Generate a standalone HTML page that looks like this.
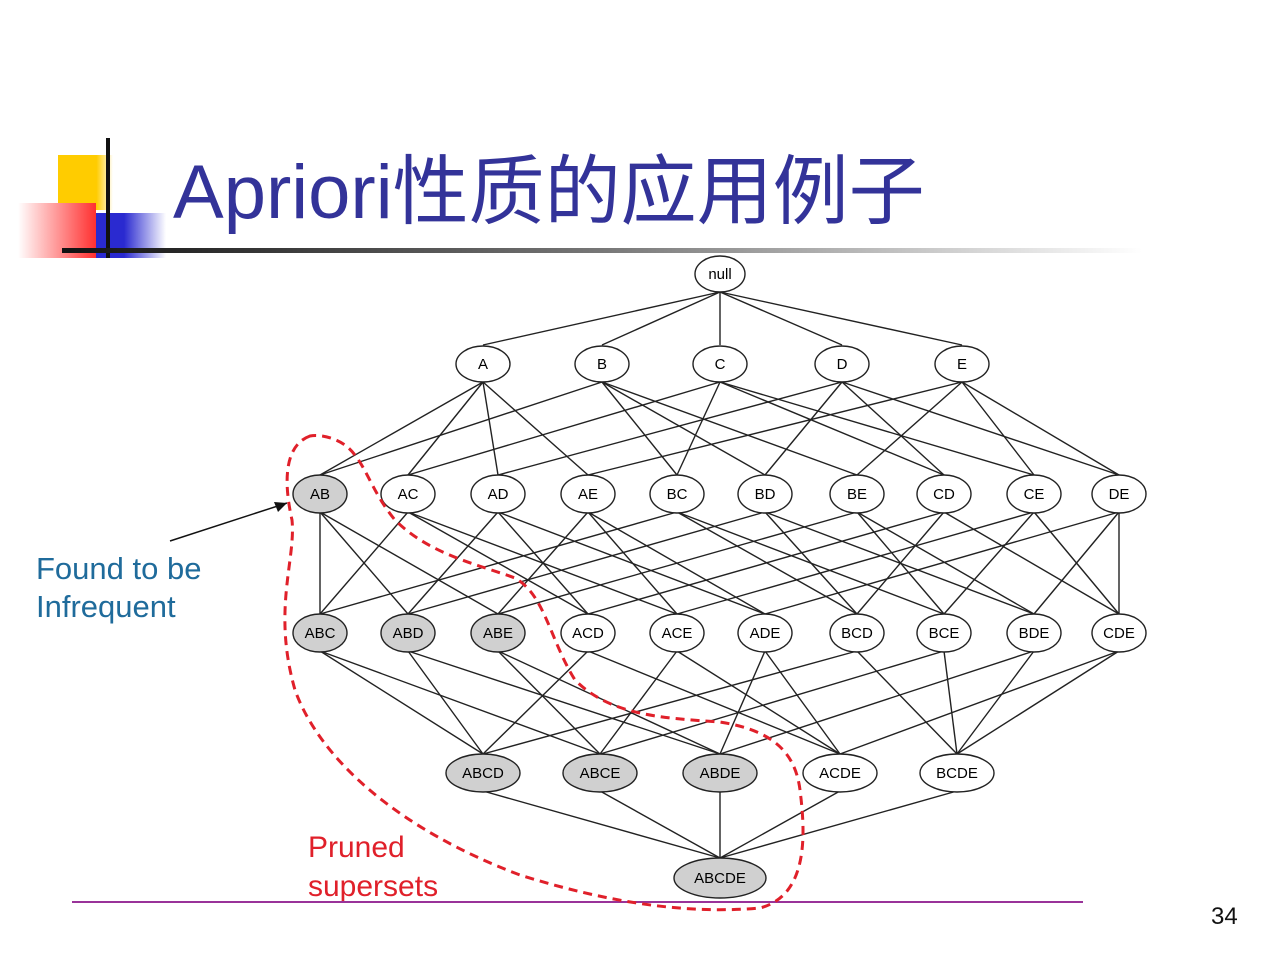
<!DOCTYPE html>
<html><head><meta charset="utf-8"><style>
body{margin:0;width:1280px;height:960px;background:#fff;overflow:hidden;position:relative;font-family:"Liberation Sans","Noto Sans CJK SC",sans-serif}
.a{position:absolute}
</style></head><body>
<div class="a" style="left:58px;top:155px;width:55px;height:55px;background:linear-gradient(90deg,#ffcc00 70%,#fff)"></div>
<div class="a" style="left:18px;top:203px;width:78px;height:55px;background:linear-gradient(90deg,#fff,#ff3030)"></div>
<div class="a" style="left:96px;top:213px;width:70px;height:45px;background:linear-gradient(90deg,#2a2ad0 40%,#fff)"></div>
<div class="a" style="left:106px;top:138px;width:4px;height:120px;background:#111"></div>
<div class="a" style="left:62px;top:248px;width:1080px;height:5px;background:linear-gradient(90deg,#111,#777 50%,#fff)"></div>
<div class="a" style="left:173px;top:130px;font-size:76px;color:#333399;white-space:nowrap">Apriori性质的应用例子</div>
<div class="a" style="left:36px;top:550px;font-size:31px;color:#1f6b9b;line-height:38px">Found to be<br>Infrequent</div>
<div class="a" style="left:308px;top:828px;font-size:30px;color:#e0202a;line-height:39px">Pruned<br>supersets</div>
<div class="a" style="left:72px;top:901px;width:1011px;height:2px;background:#993399"></div>
<div class="a" style="left:1211px;top:903px;font-size:24px;color:#111">34</div>
<svg class="a" style="left:0;top:0" width="1280" height="960" id="s">
<g id="e" stroke="#222" stroke-width="1.4"></g>
<path d="M170,541 L287,503" stroke="#111" stroke-width="1.5"/>
<path d="M287,503 L274,502 L278,512 Z" fill="#111"/>
<g id="n" stroke="#222" stroke-width="1.4" font-size="15" text-anchor="middle" font-family="Liberation Sans,sans-serif">
<ellipse cx="720" cy="274" rx="25" ry="18" fill="#fff"/><text x="720" y="279" stroke="none">null</text>
<ellipse cx="483" cy="364" rx="27" ry="18" fill="#fff"/><text x="483" y="369" stroke="none">A</text>
<ellipse cx="602" cy="364" rx="27" ry="18" fill="#fff"/><text x="602" y="369" stroke="none">B</text>
<ellipse cx="720" cy="364" rx="27" ry="18" fill="#fff"/><text x="720" y="369" stroke="none">C</text>
<ellipse cx="842" cy="364" rx="27" ry="18" fill="#fff"/><text x="842" y="369" stroke="none">D</text>
<ellipse cx="962" cy="364" rx="27" ry="18" fill="#fff"/><text x="962" y="369" stroke="none">E</text>
<ellipse cx="320" cy="494" rx="27" ry="19" fill="#d0d0d0"/><text x="320" y="499" stroke="none">AB</text>
<ellipse cx="408" cy="494" rx="27" ry="19" fill="#fff"/><text x="408" y="499" stroke="none">AC</text>
<ellipse cx="498" cy="494" rx="27" ry="19" fill="#fff"/><text x="498" y="499" stroke="none">AD</text>
<ellipse cx="588" cy="494" rx="27" ry="19" fill="#fff"/><text x="588" y="499" stroke="none">AE</text>
<ellipse cx="677" cy="494" rx="27" ry="19" fill="#fff"/><text x="677" y="499" stroke="none">BC</text>
<ellipse cx="765" cy="494" rx="27" ry="19" fill="#fff"/><text x="765" y="499" stroke="none">BD</text>
<ellipse cx="857" cy="494" rx="27" ry="19" fill="#fff"/><text x="857" y="499" stroke="none">BE</text>
<ellipse cx="944" cy="494" rx="27" ry="19" fill="#fff"/><text x="944" y="499" stroke="none">CD</text>
<ellipse cx="1034" cy="494" rx="27" ry="19" fill="#fff"/><text x="1034" y="499" stroke="none">CE</text>
<ellipse cx="1119" cy="494" rx="27" ry="19" fill="#fff"/><text x="1119" y="499" stroke="none">DE</text>
<ellipse cx="320" cy="633" rx="27" ry="19" fill="#d0d0d0"/><text x="320" y="638" stroke="none">ABC</text>
<ellipse cx="408" cy="633" rx="27" ry="19" fill="#d0d0d0"/><text x="408" y="638" stroke="none">ABD</text>
<ellipse cx="498" cy="633" rx="27" ry="19" fill="#d0d0d0"/><text x="498" y="638" stroke="none">ABE</text>
<ellipse cx="588" cy="633" rx="27" ry="19" fill="#fff"/><text x="588" y="638" stroke="none">ACD</text>
<ellipse cx="677" cy="633" rx="27" ry="19" fill="#fff"/><text x="677" y="638" stroke="none">ACE</text>
<ellipse cx="765" cy="633" rx="27" ry="19" fill="#fff"/><text x="765" y="638" stroke="none">ADE</text>
<ellipse cx="857" cy="633" rx="27" ry="19" fill="#fff"/><text x="857" y="638" stroke="none">BCD</text>
<ellipse cx="944" cy="633" rx="27" ry="19" fill="#fff"/><text x="944" y="638" stroke="none">BCE</text>
<ellipse cx="1034" cy="633" rx="27" ry="19" fill="#fff"/><text x="1034" y="638" stroke="none">BDE</text>
<ellipse cx="1119" cy="633" rx="27" ry="19" fill="#fff"/><text x="1119" y="638" stroke="none">CDE</text>
<ellipse cx="483" cy="773" rx="37" ry="19" fill="#d0d0d0"/><text x="483" y="778" stroke="none">ABCD</text>
<ellipse cx="600" cy="773" rx="37" ry="19" fill="#d0d0d0"/><text x="600" y="778" stroke="none">ABCE</text>
<ellipse cx="720" cy="773" rx="37" ry="19" fill="#d0d0d0"/><text x="720" y="778" stroke="none">ABDE</text>
<ellipse cx="840" cy="773" rx="37" ry="19" fill="#fff"/><text x="840" y="778" stroke="none">ACDE</text>
<ellipse cx="957" cy="773" rx="37" ry="19" fill="#fff"/><text x="957" y="778" stroke="none">BCDE</text>
<ellipse cx="720" cy="878" rx="46" ry="20" fill="#d0d0d0"/><text x="720" y="883" stroke="none">ABCDE</text>
</g>
<path d="M310,436 C285,445 283,480 292,520 C296,560 272,610 295,690 C320,760 400,830 520,875 C600,900 680,915 760,908 C810,895 805,830 800,790 C795,750 770,730 720,722 C660,718 610,715 575,680 C550,640 545,595 515,578 C480,565 430,555 395,520 C370,490 365,460 345,445 C335,438 320,434 310,436 Z" fill="none" stroke="#e0202a" stroke-width="3" stroke-dasharray="9,6"/>
</svg>
<script>
var P={"":[720,274]},L=[["A",483],["B",602],["C",720],["D",842],["E",962]];L.forEach(function(a){P[a[0]]=[a[1],364]});
[["AB",320],["AC",408],["AD",498],["AE",588],["BC",677],["BD",765],["BE",857],["CD",944],["CE",1034],["DE",1119]].forEach(function(a){P[a[0]]=[a[1],494]});
[["ABC",320],["ABD",408],["ABE",498],["ACD",588],["ACE",677],["ADE",765],["BCD",857],["BCE",944],["BDE",1034],["CDE",1119]].forEach(function(a){P[a[0]]=[a[1],633]});
[["ABCD",483],["ABCE",600],["ABDE",720],["ACDE",840],["BCDE",957]].forEach(function(a){P[a[0]]=[a[1],773]});
P["ABCDE"]=[720,878];
var g=document.getElementById("e"),h="";
for(var k in P){if(!k)continue;for(var i=0;i<k.length;i++){var p=k.slice(0,i)+k.slice(i+1);var a=P[k],b=P[p];
var ry=k.length==5?20:19;h+='<line x1="'+a[0]+'" y1="'+(a[1]-ry)+'" x2="'+b[0]+'" y2="'+(b[1]+18)+'"/>';}}
g.innerHTML=h;
</script>
</body></html>
